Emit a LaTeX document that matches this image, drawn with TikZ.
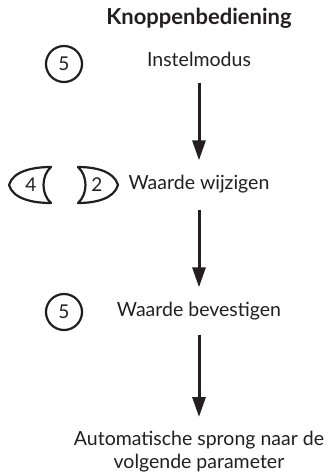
\documentclass[tikz,border=0pt]{standalone}
\usepackage{fontspec}
\setmainfont{Lato}
\usepackage{tikz}
\usetikzlibrary{arrows.meta,positioning}
\definecolor{ink}{HTML}{231F20}

\begin{document}
\begin{tikzpicture}[x=1pt, y=-1pt, ink,
  label/.style={font=\fontsize{19.5}{24}\selectfont, inner sep=0pt,
    text height=13pt, text depth=4pt},
  keycircle/.style={draw, line width=2.2pt, circle, minimum size=36pt,
    inner sep=0pt, font=\fontsize{19}{20}\selectfont},
  keyface/.style={draw, line width=2.2pt, line join=round},
  flow/.style={line width=3pt, -{Triangle[width=13pt, length=20pt]}}]
\useasboundingbox (0,0) rectangle (329,475);
% Title
\node[font=\fontsize{22}{24}\bfseries\selectfont] (title) at (199,18) {Knoppenbediening};
% Steps
\node[label] (mode) at (199,62) {Instelmodus};
\node[label] (change) at (199,185) {Waarde wijzigen};
\node[label] (confirm) at (199,312) {Waarde bevestigen};
\node[font=\fontsize{19.5}{23}\selectfont, inner sep=0pt, align=center, anchor=north]
  (jump) at (199,431) {Automatische sprong naar de\\volgende parameter};
% Keys
\node[keycircle] (key5a) at (64,64) {5};
\node[keycircle] (key5b) at (64,312) {5};
\draw[keyface] (9,185) .. controls (13,171) and (33,167) .. (51,167)
  .. controls (41,176) and (41,194) .. (51,203)
  .. controls (33,203) and (13,199) .. (9,185) -- cycle;
\draw[keyface] (118,185) .. controls (114,171) and (95,167) .. (78,167)
  .. controls (88,176) and (88,194) .. (78,203)
  .. controls (95,203) and (114,199) .. (118,185) -- cycle;
\node[font=\fontsize{19}{20}\selectfont, inner sep=0pt] (key4) at (31,185) {4};
\node[font=\fontsize{19}{20}\selectfont, inner sep=0pt] (key2) at (97,185) {2};
% Arrows
\draw[flow, shorten <=12pt, shorten >=16pt] (mode) -- (change);
\draw[flow, shorten <=16pt, shorten >=16pt] (change) -- (confirm);
\draw[flow, shorten <=14pt, shorten >=14pt] (confirm) -- (jump);
\end{tikzpicture}
\end{document}
